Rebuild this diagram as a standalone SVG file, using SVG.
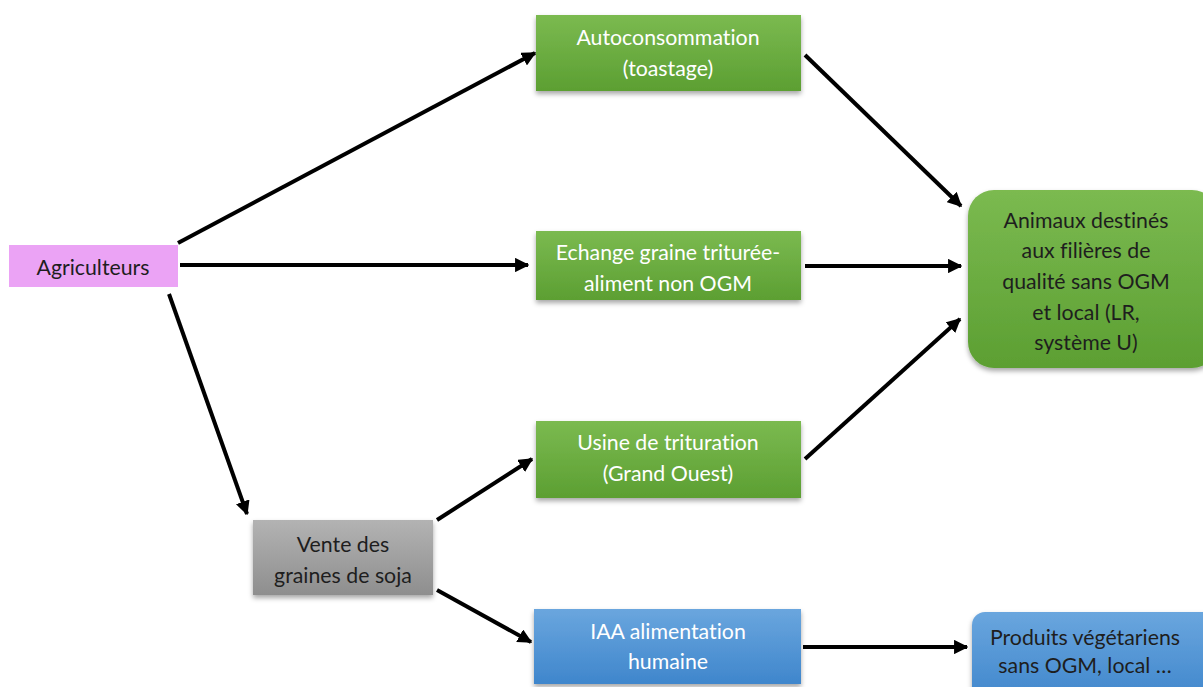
<svg xmlns="http://www.w3.org/2000/svg" width="1203" height="687" viewBox="0 0 1203 687">
<style>
text{font-family:Lato,"Open Sans","Liberation Sans",sans-serif;font-size:21.3px;text-anchor:middle;font-variant-ligatures:none;font-feature-settings:"liga" 0,"dlig" 0}
.w{fill:#ffffff}
.d{fill:#1e1e1e}
.c{stroke:#000;stroke-width:4;fill:none;marker-end:url(#ah)}
</style>
<defs>
<linearGradient id="gg" x1="0" y1="0" x2="0" y2="1"><stop offset="0" stop-color="#7bba50"/><stop offset="1" stop-color="#5c9f32"/></linearGradient>
<linearGradient id="gb" x1="0" y1="0" x2="0" y2="1"><stop offset="0" stop-color="#6aa6de"/><stop offset="1" stop-color="#3f86cc"/></linearGradient>
<linearGradient id="gy" x1="0" y1="0" x2="0" y2="1"><stop offset="0" stop-color="#b3b3b3"/><stop offset="1" stop-color="#8e8e8e"/></linearGradient>
<filter id="sh" x="-10%" y="-10%" width="120%" height="130%"><feDropShadow dx="0" dy="3" stdDeviation="2.5" flood-color="#000" flood-opacity="0.35"/></filter>
<marker id="ah" viewBox="0 0 10 10" refX="9" refY="5" markerWidth="3.6" markerHeight="3.6" orient="auto" markerUnits="strokeWidth"><path d="M0,0 L10,5 L0,10 z" fill="#000"/></marker>
</defs>
<g id="connectors">
<line class="c" x1="178" y1="243" x2="535" y2="53"/>
<line class="c" x1="180" y1="265" x2="528" y2="265"/>
<line class="c" x1="169" y1="294" x2="247" y2="514"/>
<line class="c" x1="805" y1="55" x2="961" y2="206"/>
<line class="c" x1="805" y1="266" x2="961" y2="266"/>
<line class="c" x1="805" y1="459" x2="960" y2="319"/>
<line class="c" x1="437" y1="520" x2="532" y2="459"/>
<line class="c" x1="437" y1="590" x2="531" y2="642"/>
<line class="c" x1="803" y1="647" x2="967" y2="647"/>
</g>
<g id="agriculteurs">
<rect x="9" y="245" width="169" height="42" fill="#eba3f5"/>
<text class="d" x="93" y="275">Agriculteurs</text>
</g>
<g id="autoconsommation">
<rect x="536" y="15" width="265" height="76" fill="url(#gg)" filter="url(#sh)"/>
<text class="w" x="668" y="45">Autoconsommation</text>
<text class="w" x="668" y="76">(toastage)</text>
</g>
<g id="echange">
<rect x="536" y="231" width="265" height="69" fill="url(#gg)" filter="url(#sh)"/>
<text class="w" x="668" y="260">Echange graine triturée-</text>
<text class="w" x="668" y="291">aliment non OGM</text>
</g>
<g id="usine">
<rect x="536" y="421" width="265" height="77" fill="url(#gg)" filter="url(#sh)"/>
<text class="w" x="668" y="450">Usine de trituration</text>
<text class="w" x="668" y="481">(Grand Ouest)</text>
</g>
<g id="iaa">
<rect x="534" y="609" width="267" height="75" fill="url(#gb)" filter="url(#sh)"/>
<text class="w" x="668" y="639">IAA alimentation</text>
<text class="w" x="668" y="669">humaine</text>
</g>
<g id="vente">
<rect x="253" y="520" width="180" height="75" fill="url(#gy)" filter="url(#sh)"/>
<text class="d" x="343" y="552">Vente des</text>
<text class="d" x="343" y="583">graines de soja</text>
</g>
<g id="animaux">
<rect x="968" y="190" width="250" height="178" rx="26" fill="url(#gg)" filter="url(#sh)"/>
<text class="d" x="1086" y="228">Animaux destinés</text>
<text class="d" x="1086" y="258">aux filières de</text>
<text class="d" x="1086" y="289">qualité sans OGM</text>
<text class="d" x="1086" y="320">et local (LR,</text>
<text class="d" x="1086" y="350">système U)</text>
</g>
<g id="produits">
<rect x="972" y="612" width="245" height="90" rx="13" fill="url(#gb)" filter="url(#sh)"/>
<text class="d" x="1085" y="645">Produits végétariens</text>
<text class="d" x="1085" y="673">sans OGM, local …</text>
</g>
</svg>
